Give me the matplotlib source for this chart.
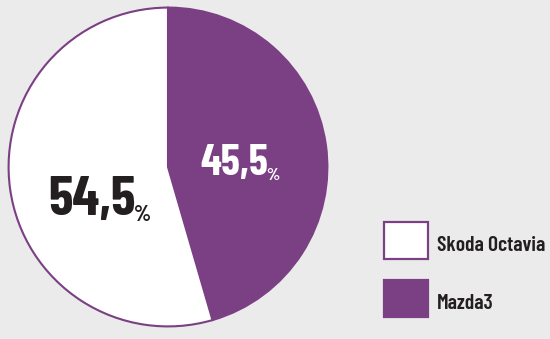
import matplotlib
matplotlib.use("Agg")
import matplotlib.pyplot as plt
from matplotlib.patches import Rectangle

labels = ["Skoda Octavia", "Mazda3"]
shares = [54.5, 45.5]
value_text = ["54,5", "45,5"]

BG = "#ebebeb"
PURPLE = "#7b3f84"
colors = ["#ffffff", PURPLE]
text_colors = ["#231f20", "#ffffff"]

W, H = 550, 339
fig = plt.figure(figsize=(W / 100, H / 100), dpi=100, facecolor=BG)
FONT = ["Barlow Condensed", "Roboto Condensed", "DejaVu Sans"]


def px(x, y):
    return x / W, (H - y) / H


# pie axes: centre ~ (168, 167) px, radius ~161 px
cx, cy, r = 168, 167, 161
ax = fig.add_axes([(cx - r) / W, (H - cy - r) / H, 2 * r / W, 2 * r / H])
ax.set_facecolor(BG)
# Mazda runs clockwise from the top, Skoda fills the rest
ax.pie(shares[::-1], colors=colors[::-1], startangle=90, counterclock=False,
       wedgeprops=dict(edgecolor=PURPLE, linewidth=1.5))
ax.set_aspect("equal")
ax.set_xlim(-1.01, 1.01)
ax.set_ylim(-1.01, 1.01)

# value labels (left edge, baseline in px)
pos = [(48, 215), (200, 175)]
sizes = [40, 31]
for (x, y), v, c, s in zip(pos, value_text, text_colors, sizes):
    t = fig.text(*px(x, y), v, ha="left", va="baseline", fontsize=s, fontweight="bold",
                 color=c, family=FONT)
    ax.annotate("%", xy=(1, 0), xycoords=t, xytext=(-1, 0), textcoords="offset points",
                ha="left", va="bottom", fontsize=s * 0.4, fontweight="bold",
                color=c, family=FONT)

# legend drawn manually
box_y = [222, 280]
fill = ["#ffffff", PURPLE]
for yb, lab, fc in zip(box_y, labels, fill):
    fig.patches.append(Rectangle(px(384, yb + 37), 44 / W, 37 / H,
                                 transform=fig.transFigure, facecolor=fc,
                                 edgecolor=PURPLE, linewidth=1.6))
    fig.text(*px(437, yb + 29), lab, ha="left", va="baseline",
             fontsize=15.5, fontweight="semibold", color="#231f20", family=FONT)

fig.savefig("out.png", dpi=100, facecolor=BG)
